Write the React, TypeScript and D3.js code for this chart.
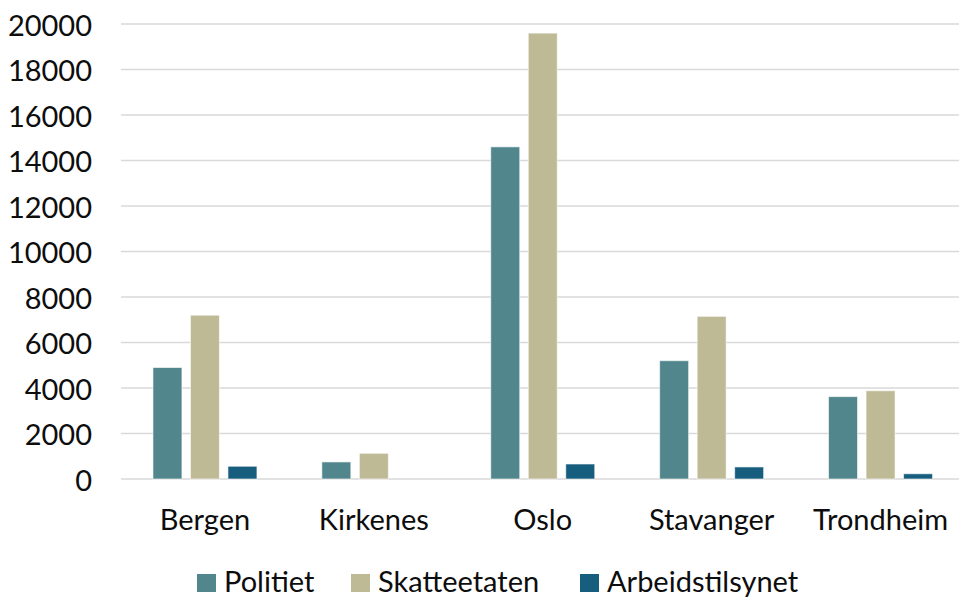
import React from "react";
import * as d3 from "d3";

const categories = ["Bergen", "Kirkenes", "Oslo", "Stavanger", "Trondheim"];
const seriesNames = ["Politiet", "Skatteetaten", "Arbeidstilsynet"];
const politiet = [4900, 750, 14600, 5200, 3620];
const skatteetaten = [7200, 1130, 19600, 7150, 3880];
const arbeidstilsynet = [560, 0, 660, 530, 230];
const yTicks = [0, 2000, 4000, 6000, 8000, 10000, 12000, 14000, 16000, 18000, 20000];
const colors = ["#50868c", "#bfba96", "#175e7e"];

const W = 959;
const H = 598;
const FONT = "Lato, 'Open Sans', sans-serif";

export default function App() {
  const seriesValues = [politiet, skatteetaten, arbeidstilsynet];
  const y = d3.scaleLinear().domain([0, 20000]).range([479, 24]);
  const x0 = d3.scaleBand<string>().domain(categories).range([120.5, 965]).padding(0);
  const groupW = 104;
  const x1 = d3.scaleBand<string>().domain(seriesNames).range([0, groupW]).paddingInner(0.227).paddingOuter(0);
  const legendX = [197, 351, 580];

  return (
    <svg width={W} height={H} style={{ position: "absolute", left: 0, top: 0, background: "#fff" }}>
      <g>
        {yTicks.map((t) => (
          <line key={"g" + t} x1={121} x2={959} y1={y(t)} y2={y(t)} stroke="#d9d9d9" strokeWidth={1.4} />
        ))}
      </g>
      <g fontFamily={FONT} fontSize={29} fill="#0d0d0d">
        {yTicks.map((t) => (
          <text key={"t" + t} x={92} y={y(t)} textAnchor="end" dominantBaseline="central">
            {t}
          </text>
        ))}
      </g>
      <g>
        {categories.map((c, ci) => {
          const gx = (x0(c) as number) + (x0.bandwidth() - groupW) / 2;
          return seriesNames.map((s, si) => {
            const v = seriesValues[si][ci];
            if (v <= 0) return null;
            return (
              <rect
                key={c + s}
                x={gx + (x1(s) as number)}
                y={y(v)}
                width={x1.bandwidth()}
                height={y(0) - y(v)}
                fill={colors[si]}
                stroke="#ffffff"
                strokeOpacity={0.6}
                strokeWidth={1}
              />
            );
          });
        })}
      </g>
      <g fontFamily={FONT} fontSize={29} fill="#0d0d0d">
        {categories.map((c) => (
          <text key={"c" + c} x={(x0(c) as number) + x0.bandwidth() / 2} y={530} textAnchor="middle">
            {c}
          </text>
        ))}
      </g>
      <g fontFamily={FONT} fontSize={29} fill="#0d0d0d">
        {seriesNames.map((s, i) => (
          <g key={"l" + s}>
            <rect x={legendX[i]} y={574} width={19} height={18} fill={colors[i]} />
            <text x={legendX[i] + 27} y={592}>
              {s}
            </text>
          </g>
        ))}
      </g>
    </svg>
  );
}
